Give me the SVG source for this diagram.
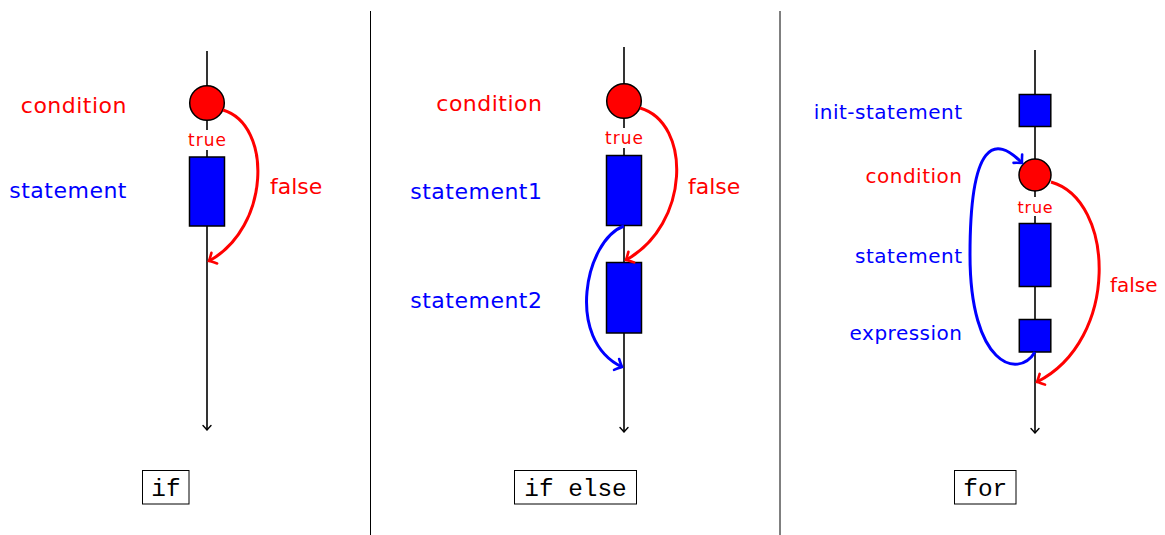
<svg xmlns="http://www.w3.org/2000/svg" width="1165" height="535" viewBox="0 0 1165 535">
<style>
.lbl{font-family:"DejaVu Sans",sans-serif;font-size:22px;letter-spacing:0.5px}
.lbl3{font-family:"DejaVu Sans",sans-serif;font-size:20px;letter-spacing:0.5px}
.red{fill:#ff0000}
.blue{fill:#0000ff}
.tru{font-family:"DejaVu Sans",sans-serif;font-size:17px;letter-spacing:1px;fill:#ff0000;text-anchor:middle}
.axis{stroke:#000;stroke-width:1.6;fill:none;marker-end:url(#ak)}
.box{fill:#0000ff;stroke:#000;stroke-width:1.5}
.dot{fill:#ff0000;stroke:#000;stroke-width:1.5}
.arcR{stroke:#ff0000;stroke-width:3;fill:none;marker-end:url(#ar)}
.arcB{stroke:#0000ff;stroke-width:3;fill:none;marker-end:url(#ab)}
.kw{font-family:"Liberation Mono",monospace;font-size:24.4px;fill:#000;text-anchor:middle}
.kwbox{fill:#fff;stroke:#000;stroke-width:1}
.sep{stroke:#000;stroke-width:1}
</style>
<defs>
<marker id="ak" markerUnits="userSpaceOnUse" markerWidth="12" markerHeight="12" viewBox="-6 -6 12 12" refX="0" refY="0" orient="auto" overflow="visible">
<path d="M-4.5,-4 Q-1.2,-1 0,0 Q-1.2,1 -4.5,4" fill="none" stroke="#000" stroke-width="1.4" stroke-linecap="round"/>
</marker>
<marker id="ar" markerUnits="userSpaceOnUse" markerWidth="16" markerHeight="16" viewBox="-8 -8 16 16" refX="0" refY="0" orient="auto" overflow="visible">
<path d="M-6,-6 Q-1.8,-1.5 0,0 Q-1.8,1.5 -6,6" fill="none" stroke="#ff0000" stroke-width="2.6" stroke-linecap="round"/>
</marker>
<marker id="ab" markerUnits="userSpaceOnUse" markerWidth="16" markerHeight="16" viewBox="-8 -8 16 16" refX="0" refY="0" orient="auto" overflow="visible">
<path d="M-6,-6 Q-1.8,-1.5 0,0 Q-1.8,1.5 -6,6" fill="none" stroke="#0000ff" stroke-width="2.6" stroke-linecap="round"/>
</marker>
</defs>
<rect width="1165" height="535" fill="#fff"/>

<g id="separators">
<line class="sep" x1="370.5" y1="11" x2="370.5" y2="535"/>
<line class="sep" x1="780" y1="11" x2="780" y2="535"/>
</g>

<g id="connectors">
<path class="axis" d="M207,51 V430"/>
<path class="axis" d="M624,47 V432"/>
<path class="axis" d="M1035,50 V433"/>
</g>

<!-- Panel 1: if -->
<g id="if-condition">
<circle class="dot" cx="207" cy="103" r="17.3"/>
<text class="lbl red" x="127" y="113" text-anchor="end">condition</text>
</g>
<g id="if-true">
<rect x="188" y="130" width="38" height="20" fill="#fff"/>
<text class="tru" x="207.5" y="146">true</text>
</g>
<g id="if-statement">
<rect class="box" x="189.5" y="157" width="35" height="69"/>
<text class="lbl blue" x="127" y="198" text-anchor="end">statement</text>
</g>
<g id="if-false-label">
<text class="lbl red" x="270" y="193.5" style="letter-spacing:0">false</text>
</g>
<g id="if-keyword">
<rect class="kwbox" x="142.5" y="470.5" width="46.5" height="33.5"/>
<text class="kw" x="166" y="495.5">if</text>
</g>

<!-- Panel 2: if else -->
<g id="ifelse-condition">
<circle class="dot" cx="624" cy="101" r="17.3"/>
<text class="lbl red" x="542.5" y="110.5" text-anchor="end">condition</text>
</g>
<g id="ifelse-true">
<rect x="605" y="128" width="38" height="20" fill="#fff"/>
<text class="tru" x="624.5" y="144">true</text>
</g>
<g id="ifelse-statement1">
<rect class="box" x="606.5" y="155.5" width="35" height="70"/>
<text class="lbl blue" x="542.5" y="199" text-anchor="end">statement1</text>
</g>
<g id="ifelse-statement2">
<rect class="box" x="606.5" y="262.5" width="35" height="70.5"/>
<text class="lbl blue" x="542.5" y="307.5" text-anchor="end">statement2</text>
</g>
<g id="ifelse-false-label">
<text class="lbl red" x="688" y="194" style="letter-spacing:0">false</text>
</g>
<g id="ifelse-keyword">
<rect class="kwbox" x="514.5" y="470.5" width="122" height="33.5"/>
<text class="kw" x="575.5" y="495.5">if else</text>
</g>

<!-- Panel 3: for -->
<g id="for-init">
<rect class="box" x="1019.3" y="94.5" width="31.5" height="32"/>
<text class="lbl3 blue" x="962.5" y="119" text-anchor="end">init-statement</text>
</g>
<g id="for-condition">
<circle class="dot" cx="1035" cy="175" r="16"/>
<text class="lbl3 red" x="962.5" y="183" text-anchor="end">condition</text>
</g>
<g id="for-true">
<rect x="1017" y="197" width="36" height="19" fill="#fff"/>
<text class="tru" x="1035.5" y="213" style="font-size:16px;letter-spacing:0.8px">true</text>
</g>
<g id="for-statement">
<rect class="box" x="1019.3" y="223.5" width="31.5" height="63"/>
<text class="lbl3 blue" x="962.5" y="262.5" text-anchor="end">statement</text>
</g>
<g id="for-expression">
<rect class="box" x="1019.3" y="319.5" width="31.5" height="32.5"/>
<text class="lbl3 blue" x="962.5" y="340" text-anchor="end">expression</text>
</g>
<g id="for-false-label">
<text class="lbl3 red" x="1110" y="291.5" style="letter-spacing:0">false</text>
</g>
<g id="for-keyword">
<rect class="kwbox" x="954.5" y="470.5" width="61.5" height="33.5"/>
<text class="kw" x="985.3" y="495.5">for</text>
</g>

<g id="arcs">
<path class="arcR" d="M223,110 C273,125 270,228 209,261"/>
<path class="arcR" d="M640,108 C692,123 690,225 626,260"/>
<path class="arcB" d="M624,226 C585,240 565,340 622,367"/>
<path class="arcR" d="M1051,182 C1115,200 1120,340 1037,382"/>
<path class="arcB" d="M1035,352 C1018,380 970,365 970,255 C970,140 995,135 1022,163"/>
</g>
</svg>
